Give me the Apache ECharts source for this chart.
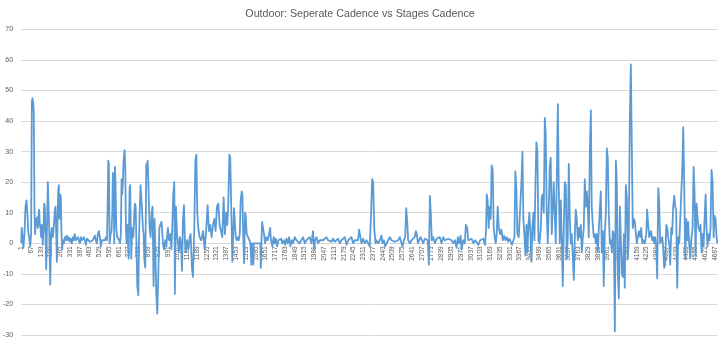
<!DOCTYPE html>
<html>
<head>
<meta charset="utf-8">
<script src="https://cdn.jsdelivr.net/npm/echarts@6/dist/echarts.min.js"></script>
<style>
html,body{margin:0;padding:0;background:#fff;}
#chart{width:720px;height:358px;}
</style>
</head>
<body>
<div id="chart"></div>
<script>
var titleText = 'Outdoor: Seperate Cadence vs Stages Cadence';
var sampleCount = 4702;
var yTicks = { min: -30, max: 70, interval: 10 };

var sampleNo = [
1,3,5,10,16,23,30,37,44,48,55,62,68,73,77,82,86,91,95,100,104,109,113,118,122,127,131,136,140,147,152,156,161,165,170,174,181,185,190,197,203,208,215,222,228,233,237,242,246,251,255,260,264,269,273,278,282,289,296,303,309,316,323,330,336,343,350,357,363,370,377,384,391,397,404,411,418,424,431,438,445,451,458,465,472,478,485,492,499,505,512,519,526,532,539,546,553,559,566,573,580,584,589,593,598,605,611,616,620,625,629,634,638,643,650,656,663,668,674,679,683,688,692,699,704,708,713,719,726,733,737,744,751,758,765,769,774,778,785,792,796,801,807,812,816,823,828,832,839,846,850,855,861,868,875,882,888,895,902,909,913,920,927,934,940,949,958,965,974,981,988,992,999,1008,1015,1021,1028,1035,1039,1046,1053,1060,1066,1073,1080,1087,1093,1100,1107,1114,1121,1130,1139,1145,1154,1161,1170,1177,1184,1190,1197,1206,1217,1229,1240,1251,1260,1269,1278,1287,1296,1305,1314,1323,1332,1341,1350,1359,1368,1377,1386,1393,1400,1407,1413,
1420,1427,1434,1438,1445,1450,1456,1463,1470,1477,1483,1490,1495,1499,1506,1513,1517,1524,1533,1542,1549,1553,1555,1558,1569,1571,1589,1616,1619,1623,1628,1634,1641,1648,1657,1666,1675,1682,1688,1697,1706,1713,1720,1729,1738,1747,1756,1765,1774,1783,1792,1801,1810,1819,1828,1837,1848,1860,1871,1882,1893,1905,1916,1927,1938,1950,1961,1972,1979,1986,1995,2006,2017,2029,2040,2051,2062,2074,2085,2096,2107,2119,2130,2141,2152,2164,2175,2186,2198,2209,2220,2231,2243,2254,2265,2276,2283,2292,2299,2310,2321,2333,2344,2355,2364,2371,2378,2385,2394,2400,2412,2423,2434,2441,2450,2459,2468,2479,2490,2502,2513,2524,2536,2547,2558,2569,2576,2585,2594,2601,2608,2614,2626,2637,2648,2659,2666,2673,2680,2689,2698,2707,2716,2727,2738,2747,2754,2761,2768,2774,2783,2795,2806,2817,2828,2840,2851,2862,2873,2885,2896,2907,2919,2930,2941,2950,2959,2968,2975,2986,2997,3004,3013,3020,
3032,3043,3055,3066,3077,3088,3100,3111,3122,3133,3140,3145,3151,3158,3165,3172,3178,3185,3192,3199,3205,3212,3219,3226,3235,3244,3253,3262,3271,3280,3289,3298,3307,3316,3325,3332,3338,3345,3352,3361,3370,3379,3386,3392,3399,3406,3413,3420,3426,3433,3440,3447,3453,3460,3467,3474,3480,3487,3494,3501,3510,3516,3523,3530,3537,3543,3550,3557,3564,3570,3577,3584,3591,3597,3604,3611,3618,3625,3631,3638,3645,3652,3658,3665,3672,3679,3685,3692,3699,3706,3712,3719,3726,3733,3739,3746,3753,3760,3766,3773,3780,3787,3794,3800,3807,3814,3821,3827,3834,3841,3848,3854,3861,3868,3875,3881,3888,3895,3902,3908,3915,3922,3929,3935,3942,3949,3956,3962,3969,3976,3983,3990,3996,4003,4010,4017,4023,4030,4037,4044,4050,4057,4064,4071,4077,4084,4091,4098,4104,4111,4118,4125,4131,4138,4145,4152,4159,4165,4172,4181,4188,4195,4204,4213,4222,4228,4235,4242,4249,4255,4262,4269,4276,4282,4289,4296,4303,4309,4316,4323,4330,4336,4343,4350,4357,4364,4370,4377,4384,4391,4397,4404,4411,4418,4424,4431,4438,4445,4458,4465,4472,4478,4485,4492,4499,4505,4512,4519,4526,4535,4542,4548,4555,4562,4569,4575,4582,4589,4596,4602,4609,4616,4623,4629,4636,4643,4650,4656,4663,4670,4677,4683,4690,4697,4702
];

var cadenceDiff = [
0,3,5,2,-1.5,3,12,14,9,4,2,-1,3,46,47.5,46,43,10,3,8,6,8.5,5,9,11,6,5,2,6,-0.5,5,13,12,3,-8.5,2,20,19.5,5,-13.5,3,5,2,6,11,12,4,-6,5,17,19,8,16,15,3,-2,1,0,2,1,2.5,1,2,0.5,1.5,0,2,1,3,1,0.5,2,1.5,0,2,1,0.5,2,1,-0.5,1.5,1,2,0.5,1,0,1,0.5,2.5,1,0,3,4,2,-1,1,1.5,0.5,1,2,1,10,27,26,0,3,4,10,23,22,0,25,20,5,2,1.5,1,0,3,21,16,20,27,30.5,25,5,0,6,-5,18,19,-5,5,2,10,13,12,3,-14,-17,0,10,19,15,12,5,3,-5,-8,26,24,27,18,5,2,10,12,-14,8,8,-16,-23,-10,5,6,7,0,-2,1,-1,3,5,1,3,-2,5,16,20,-16.5,12,3,0,-3,2,0,-9,7,12.5,0,-3,1,-2,2,3,-8,-11,5,27,29,10,5,2,1,4,-2,5,12.5,4,6,2,6,8,4,12,13,6,4,2,15,3,10,6,14,29,28,
10,-6,5,11.5,12,2,1,2,1,3,14,17,16,5,-6.5,10,9,3,2,1,0,0,-7,0,-7,0,0,0,-8,0,7,5,3,0,2,1,3,5,1,-1,2,0,1.5,-1,1,0.5,1.5,0,1,-0.5,1.5,0,2,-1,1,0,2,1,1.5,0,1,2,0,1,1,2,0,4,-2,1,2,0,1,0.5,1,1,2,1,1,0.5,1.5,0.5,1,1.5,0,1,1,2,-0.5,1,1.5,2,0,1,1,1,4.5,4,0,1.5,0,1,1,-1,10,21,20,5,0,1,0,1,2.5,0,1,-1,0,1,2,1,1.5,0.5,1,1,2,0,-1,1,2,11.5,7,1,0,1,1,2,4,3,0,1,2,1,0,1.5,2,1,-7,15.5,9,1,2,0,1.5,1,2,0,2,1,1,1.5,2,1,0,1,-1.5,2,0,2.5,-2,1,0,6,5,1,
1,1.5,0,1,1.5,-0.5,1,0.5,1.5,-0.5,4,16,14,5,12,8,25.5,24,5,2,0,3,12,5,3,4.5,1,2.5,1,2,0.5,1.5,0.5,-0.5,1,2,23.5,18,3,2,1.5,20,30,8,3,-4,6,-3,6,10,3,-6,5,10,1,20,33,30,1,0,5,15,16,10,41,36,10,0,12,25,28,3,12,20,20,0,22,45.5,20,0,14,0,-14,4,20,19,-5,2,26,8,0,3,3,-12,1,11,8,1,5,2,6,-3,2,5,21,12,17,12,2,30,43.5,12,6,2,3,0,3,-3,5,5,17,-3,4,-14,3,10,31,28,10,0,1,-3,4,3,-28.8,27,20,-10,-18,12,12,-10,-11,3,-14.5,19,15,-5,2,40,58.5,30,5,8,7,3,0,2,4,2,5,0,1,0,3,11,6,2,3,4,1,2,0,2,-1,-11.5,18,14,0,1,2,-1,-8,-7,6,5,2,0,-7,5,3,12,15.5,12,11,-14.5,2,0,0,24,38,20,-5,8,1,7,0,-5,1,5,25,17,-4,13,8,5,4,6,-3,3,-1,8,16,5,-1,3,1,5,24,20,2,9,8,2,0
];

var categories = [];
for (var i = 1; i <= sampleCount; i++) categories.push(String(i));

var seriesData = sampleNo.map(function (s, k) { return [s - 1, cadenceDiff[k]]; });

var gridTop = 29.3, gridBottom = 23, chartHeight = 358;
var plotHeight = chartHeight - gridTop - gridBottom;
var zeroOffset = -plotHeight * (0 - yTicks.min) / (yTicks.max - yTicks.min);

var chart = echarts.init(document.getElementById('chart'), null, { renderer: 'canvas' });
chart.setOption({
  animation: false,
  backgroundColor: '#ffffff',
  title: {
    text: titleText,
    left: 'center',
    top: 4,
    textStyle: { fontFamily: 'Liberation Sans', fontSize: 10.7, fontWeight: 'normal', color: '#595959' }
  },
  grid: { left: 21, right: 2.6, top: gridTop, bottom: gridBottom, containLabel: false },
  xAxis: {
    type: 'category',
    data: categories,
    boundaryGap: true,
    offset: zeroOffset,
    axisLine: { onZero: false, lineStyle: { color: '#d9d9d9', width: 1 } },
    axisTick: { show: false },
    axisLabel: {
      interval: 65,
      rotate: 90,
      margin: 3,
      fontFamily: 'Liberation Sans',
      fontSize: 6.5,
      color: '#595959'
    },
    splitLine: { show: false }
  },
  yAxis: {
    type: 'value',
    min: yTicks.min,
    max: yTicks.max,
    interval: yTicks.interval,
    axisLine: { show: false },
    axisTick: { show: false },
    axisLabel: { margin: 8, fontFamily: 'Liberation Sans', fontSize: 7, color: '#595959' },
    splitLine: { lineStyle: { color: '#d9d9d9', width: 1 } }
  },
  series: [{
    type: 'line',
    data: seriesData,
    showSymbol: false,
    symbol: 'none',
    sampling: null,
    lineStyle: { color: '#5b9bd5', width: 1.8, join: 'round' },
    z: 3
  }]
});
</script>
</body>
</html>
